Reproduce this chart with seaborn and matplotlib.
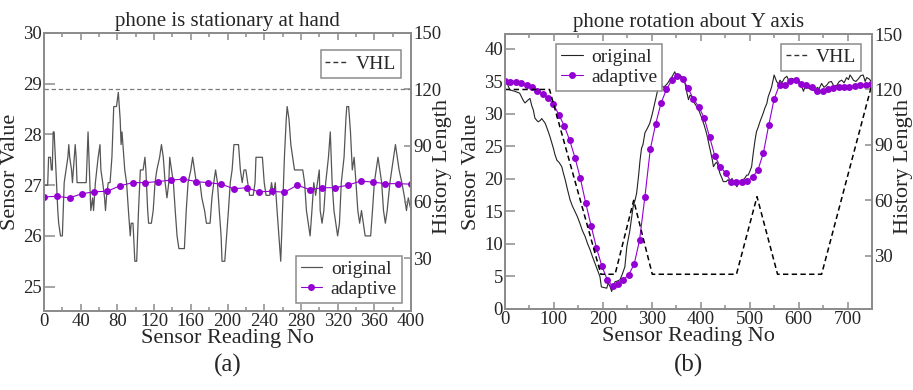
import matplotlib
matplotlib.use("Agg")
import matplotlib.pyplot as plt
import seaborn as sns
from matplotlib.lines import Line2D
from matplotlib.ticker import MultipleLocator

# ---------------- data: (a) phone is stationary at hand ----------------
a_orig_x = [0, 4, 5, 7, 8, 9, 10, 11, 13, 15, 16, 18, 20, 22, 24, 26, 27, 28, 30, 31,
            33, 34, 35, 36, 46, 48, 50, 51, 53, 54, 56, 59, 61, 62, 64, 66, 67, 68, 70, 72,
            74, 76, 79, 81, 83, 84, 85, 86, 88, 90, 92, 94, 95, 97, 99, 101, 103, 105, 108, 110,
            111, 113, 114, 117, 119, 121, 123, 126, 128, 130, 132, 134, 136, 137, 139, 141, 143, 145, 147, 153,
            155, 157, 160, 162, 164, 166, 170, 172, 175, 177, 181, 183, 185, 187, 189, 191, 193, 194, 197, 199,
            201, 203, 205, 207, 212, 214, 216, 218, 220, 222, 224, 228, 230, 231, 238, 240, 242, 246, 248, 250,
            252, 254, 256, 258, 260, 262, 264, 265, 267, 269, 271, 273, 282, 284, 286, 288, 290, 292, 294, 296,
            298, 300, 301, 303, 305, 307, 310, 312, 314, 316, 318, 320, 322, 324, 327, 329, 330, 332, 334, 336,
            338, 340, 342, 344, 346, 348, 350, 356, 358, 360, 362, 364, 366, 368, 370, 372, 374, 377, 379, 381,
            383, 385, 387, 390, 393, 395, 397, 400]
a_orig_y = [27.0, 27.0, 27.55, 27.55, 27.3, 27.3, 28.05, 28.05, 27.3, 26.5, 26.25, 26.0, 26.0, 27.05, 27.3, 27.55, 27.8, 27.55, 27.3, 27.05,
            27.55, 27.8, 27.55, 27.05, 27.05, 28.05, 27.05, 26.5, 26.75, 26.5, 27.05, 27.55, 27.8, 27.3, 27.05, 26.75, 26.5, 26.75, 27.05, 27.05,
            27.55, 28.55, 28.55, 28.83, 28.3, 27.8, 28.05, 27.8, 27.3, 27.05, 26.5, 26.0, 26.25, 26.25, 25.5, 25.5, 26.5, 27.3, 27.3, 27.55,
            27.3, 26.5, 26.25, 26.25, 26.5, 27.05, 27.3, 27.55, 27.8, 27.55, 27.05, 26.75, 27.05, 27.55, 27.3, 27.05, 26.5, 26.0, 25.75, 25.75,
            26.5, 27.05, 27.3, 27.55, 27.3, 27.05, 27.05, 26.75, 26.5, 26.25, 26.25, 26.75, 27.05, 27.3, 27.05, 26.5, 26.0, 25.5, 25.5, 26.0,
            26.5, 27.05, 27.3, 27.8, 27.8, 27.3, 27.05, 27.3, 27.3, 27.05, 26.8, 26.8, 27.05, 27.55, 27.55, 27.05, 26.8, 26.8, 27.05, 26.8,
            27.05, 26.5, 26.0, 25.5, 26.5, 27.55, 28.3, 28.55, 28.3, 27.8, 27.55, 27.3, 27.3, 27.05, 26.5, 26.25, 26.0, 26.5, 27.05, 26.8,
            27.05, 27.3, 26.5, 26.25, 26.5, 27.05, 27.55, 28.05, 27.05, 26.5, 26.25, 26.0, 26.25, 27.05, 27.55, 28.3, 28.55, 28.55, 28.05, 27.3,
            27.55, 27.05, 26.5, 26.25, 26.5, 26.25, 26.0, 26.0, 26.5, 27.05, 27.3, 27.55, 27.3, 27.05, 26.5, 26.25, 26.5, 27.05, 27.3, 27.55,
            27.8, 27.55, 27.3, 27.05, 26.75, 26.5, 26.75, 26.5]

a_adapt_x = [0, 14, 28, 41, 55, 69, 83, 97, 110, 124, 138, 152, 166, 179, 193,
             207, 221, 234, 248, 262, 276, 290, 303, 317, 331, 345, 359, 372, 386, 400]
a_adapt_y = [26.77, 26.78, 26.75, 26.83, 26.87, 26.88, 26.99, 27.05, 27.05, 27.07, 27.1, 27.12, 27.07, 27.05, 27.02,
             26.93, 26.95, 26.87, 26.88, 26.86, 27.0, 26.91, 26.95, 26.95, 27.0, 27.08, 27.06, 27.03, 27.03, 27.02]

a_vhl_x = [0, 400]
a_vhl_y = [120, 120]

# ---------------- data: (b) phone rotation about Y axis ----------------
b_orig_x = [0, 5, 10, 20, 30, 38, 41, 45, 51, 55, 58, 61, 65, 68, 72, 75, 79, 82, 87, 92,
            96, 99, 102, 106, 111, 116, 119, 123, 128, 133, 138, 143, 148, 153, 158, 164, 169, 174, 179, 184,
            189, 194, 197, 203, 208, 211, 215, 218, 222, 225, 230, 235, 240, 245, 249, 255, 262, 266, 269, 273,
            276, 279, 282, 286, 291, 296, 301, 306, 310, 313, 317, 320, 324, 327, 332, 337, 342, 347, 351, 354,
            358, 361, 365, 368, 371, 375, 378, 381, 386, 392, 397, 402, 407, 412, 416, 419, 423, 426, 430, 433,
            436, 439, 443, 446, 452, 456, 460, 464, 467, 471, 474, 477, 484, 489, 494, 497, 501, 504, 507, 511,
            514, 518, 521, 525, 528, 531, 535, 538, 542, 545, 548, 550, 553, 555, 559, 562, 566, 571, 576, 580,
            585, 589, 594, 599, 603, 607, 610, 613, 617, 620, 624, 627, 631, 634, 638, 642, 647, 652, 657, 662,
            667, 672, 678, 683, 688, 693, 698, 702, 705, 708, 712, 717, 722, 727, 732, 736, 739, 744, 750]
b_orig_y = [35.0, 34.6, 33.7, 33.5, 33.2, 32.0, 31.7, 32.0, 32.4, 31.2, 30.6, 29.4, 29.0, 28.8, 29.0, 29.3, 28.9, 28.6, 27.6, 26.5,
            25.5, 24.7, 23.8, 22.9, 22.5, 21.9, 21.0, 19.9, 18.3, 16.8, 15.8, 15.0, 14.2, 13.2, 12.1, 11.1, 10.0, 9.1, 8.0, 7.0,
            6.0, 5.0, 3.4, 3.3, 3.2, 4.0, 3.4, 2.7, 3.6, 4.2, 4.3, 4.5, 5.4, 6.5, 9.6, 12.0, 15.8, 16.8, 17.8, 20.5,
            22.9, 24.7, 25.3, 27.1, 27.8, 28.6, 30.0, 31.7, 33.0, 34.0, 34.6, 34.5, 34.1, 34.3, 34.7, 35.3, 35.8, 36.5, 35.6, 35.5,
            36.0, 35.7, 35.3, 34.7, 33.5, 32.2, 32.9, 32.7, 31.8, 31.1, 30.4, 29.4, 28.3, 27.0, 25.6, 24.5, 23.2, 21.9, 22.4, 22.6,
            21.8, 20.9, 20.2, 19.6, 19.6, 19.9, 19.5, 20.1, 19.4, 19.2, 18.8, 19.5, 19.9, 20.0, 20.6, 20.6, 21.3, 21.9, 23.8, 26.0,
            27.3, 28.1, 28.8, 29.6, 30.2, 30.9, 31.6, 32.7, 33.5, 34.2, 35.3, 36.0, 35.4, 35.0, 34.6, 35.2, 34.8, 35.5, 35.8, 35.1,
            35.5, 35.4, 34.9, 35.3, 34.7, 34.1, 33.5, 34.2, 34.7, 34.0, 33.8, 34.2, 33.6, 33.5, 34.1, 33.9, 34.7, 34.1, 34.4, 34.9,
            35.0, 34.3, 34.4, 35.0, 35.2, 34.8, 35.6, 35.3, 36.0, 35.7, 35.2, 35.0, 35.4, 35.9, 36.0, 35.0, 35.6, 35.4, 34.9]

b_adapt_x = [0, 11, 22, 33, 44, 55, 66, 77, 88, 99, 110, 121, 132, 143, 154, 165, 176, 187, 198, 209,
             220, 231, 242, 253, 264, 275, 286, 297, 308, 319, 330, 341, 352, 363, 374, 385, 396, 407, 418, 429,
             440, 451, 462, 473, 484, 495, 506, 517, 528, 539, 550, 561, 572, 583, 594, 605, 616, 627, 638, 649,
             660, 671, 682, 693, 704, 715, 726, 737, 748]
b_adapt_y = [35.0, 34.9, 34.9, 34.7, 34.4, 34.1, 33.6, 33.1, 32.5, 31.5, 29.9, 28.2, 26.0, 23.3, 20.1, 16.3, 12.8, 9.4, 6.6, 4.5,
             3.5, 3.9, 4.5, 5.3, 6.9, 10.6, 17.3, 24.6, 28.5, 31.7, 33.8, 35.2, 35.9, 35.4, 34.0, 32.3, 31.1, 29.4, 26.5, 23.5,
             21.9, 20.9, 19.6, 19.5, 19.5, 19.7, 20.3, 21.4, 24.0, 28.3, 32.3, 34.5, 34.5, 35.0, 35.2, 34.6, 34.4, 34.2, 33.6, 33.6,
             33.9, 34.0, 34.1, 34.2, 34.2, 34.3, 34.4, 34.5, 34.6]

b_vhl_x = [0, 91, 196, 225, 263, 301, 473, 515, 557, 647, 750]
b_vhl_y = [120, 120, 20, 20, 60, 20, 20, 62, 20, 20, 123]

a_xticks = list(range(0, 401, 40))
a_yticks = [25, 26, 27, 28, 29, 30]
b_xticks = list(range(0, 701, 100))
b_yticks = list(range(0, 41, 5))
hist_ticks = [30, 60, 90, 120, 150]

# ---------------- style ----------------
sns.set_style("ticks")
plt.rcParams["font.family"] = ["Liberation Serif", "DejaVu Serif"]
plt.rcParams["font.size"] = 12

PURPLE = "#9400d3"
FRAME = "#8c8c8c"
DASH = (0, (3.5, 2.2))


def style_axes(ax):
    for s in ax.spines.values():
        s.set_color(FRAME)
        s.set_linewidth(1.3)
    ax.tick_params(which="both", direction="in", color=FRAME, width=1.1, labelsize=13.5, pad=1.5)


def legend_box(ax, handles, loc, anchor):
    leg = ax.legend(handles=handles, loc=loc, bbox_to_anchor=anchor, fancybox=False,
                    framealpha=1, edgecolor=FRAME, fontsize=14, handlelength=1.1,
                    handletextpad=0.45, borderpad=0.25, labelspacing=0.1, borderaxespad=0)
    leg.get_frame().set_linewidth(1.1)
    return leg


fig = plt.figure(figsize=(9.13, 3.9), dpi=100)
ax_a = fig.add_axes([0.0482, 0.2026, 0.402, 0.7128])
ax_b = fig.add_axes([0.5531, 0.2077, 0.402, 0.705])

# ---------------- (a) ----------------
sns.lineplot(x=a_orig_x, y=a_orig_y, ax=ax_a, color="#555555", linewidth=0.9, estimator=None)
sns.lineplot(x=a_adapt_x, y=a_adapt_y, ax=ax_a, color=PURPLE, linewidth=0.8, marker="o",
             markersize=5, markeredgewidth=0, estimator=None)
ax_a.set_xlim(0, 400)
ax_a.set_ylim(24.52, 30)
ax_a.set_xticks(a_xticks)
ax_a.xaxis.set_minor_locator(MultipleLocator(20))
ax_a.set_yticks(a_yticks)
ax_a.tick_params(axis="x", which="both", top=True)
ax_a.tick_params(axis="x", which="major", length=5)
ax_a.tick_params(axis="x", which="minor", length=3)
ax_a.tick_params(axis="y", which="major", length=8, right=False)
style_axes(ax_a)
ax_a.set_title("phone is stationary at hand", fontsize=15, pad=5)
ax_a.set_xlabel("Sensor Reading No", fontsize=16, labelpad=-1)
ax_a.set_ylabel("Sensor Value", fontsize=16)
ax_a.yaxis.set_label_coords(-0.066, 0.5)

ta = ax_a.twinx()
sns.lineplot(x=a_vhl_x, y=a_vhl_y, ax=ta, color="#7a7a7a", linewidth=0.9, linestyle=DASH,
             estimator=None)
ta.set_ylim(1.9, 150)
ta.set_yticks(hist_ticks)
style_axes(ta)
ta.tick_params(axis="y", length=5)
ta.set_ylabel("History Length", fontsize=16)
ta.yaxis.set_label_coords(1.06, 0.52)

h_orig = Line2D([0], [0], color="#555555", lw=0.9, label="original")
h_adapt = Line2D([0, 1], [0, 0], color=PURPLE, lw=0.8, marker="o", markersize=5, markeredgewidth=0,
                 label="adaptive")
h_vhl = Line2D([0], [0], color="#333333", lw=1.0, linestyle=DASH, label="VHL")
legend_box(ta, [h_vhl], "upper right", (0.972, 0.938))
legend_box(ax_a, [h_orig, h_adapt], "lower right", (0.975, 0.03))

# ---------------- (b) ----------------
sns.lineplot(x=b_orig_x, y=b_orig_y, ax=ax_b, color="#222222", linewidth=0.8, estimator=None)
sns.lineplot(x=b_adapt_x, y=b_adapt_y, ax=ax_b, color=PURPLE, linewidth=0.8, marker="o",
             markersize=5, markeredgewidth=0, estimator=None)
ax_b.set_xlim(0, 750)
ax_b.set_ylim(0, 42.3)
ax_b.set_xticks(b_xticks)
ax_b.xaxis.set_minor_locator(MultipleLocator(50))
ax_b.set_yticks(b_yticks)
ax_b.tick_params(axis="x", which="both", top=True)
ax_b.tick_params(axis="x", which="major", length=5)
ax_b.tick_params(axis="x", which="minor", length=3)
ax_b.tick_params(axis="y", which="major", length=7, right=False)
style_axes(ax_b)
ax_b.set_title("phone rotation about Y axis", fontsize=15, pad=5)
ax_b.set_xlabel("Sensor Reading No", fontsize=16, labelpad=-1)
ax_b.set_ylabel("Sensor Value", fontsize=16)
ax_b.yaxis.set_label_coords(-0.066, 0.5)

tb = ax_b.twinx()
sns.lineplot(x=b_vhl_x, y=b_vhl_y, ax=tb, color="black", linewidth=1.1, linestyle=DASH,
             estimator=None)
tb.set_ylim(1.2, 150)
tb.set_yticks(hist_ticks)
style_axes(tb)
tb.tick_params(axis="y", length=5)
tb.set_ylabel("History Length", fontsize=16)
tb.yaxis.set_label_coords(1.06, 0.52)

h_orig_b = Line2D([0], [0], color="#222222", lw=0.8, label="original")
legend_box(tb, [h_vhl], "upper right", (0.97, 0.965))
legend_box(ax_b, [h_orig_b, h_adapt], "upper left", (0.14, 0.965))

fig.text(0.249, 0.063, "(a)", ha="center", va="center", fontsize=18)
fig.text(0.754, 0.063, "(b)", ha="center", va="center", fontsize=18)

fig.savefig("out.png", dpi=100)
